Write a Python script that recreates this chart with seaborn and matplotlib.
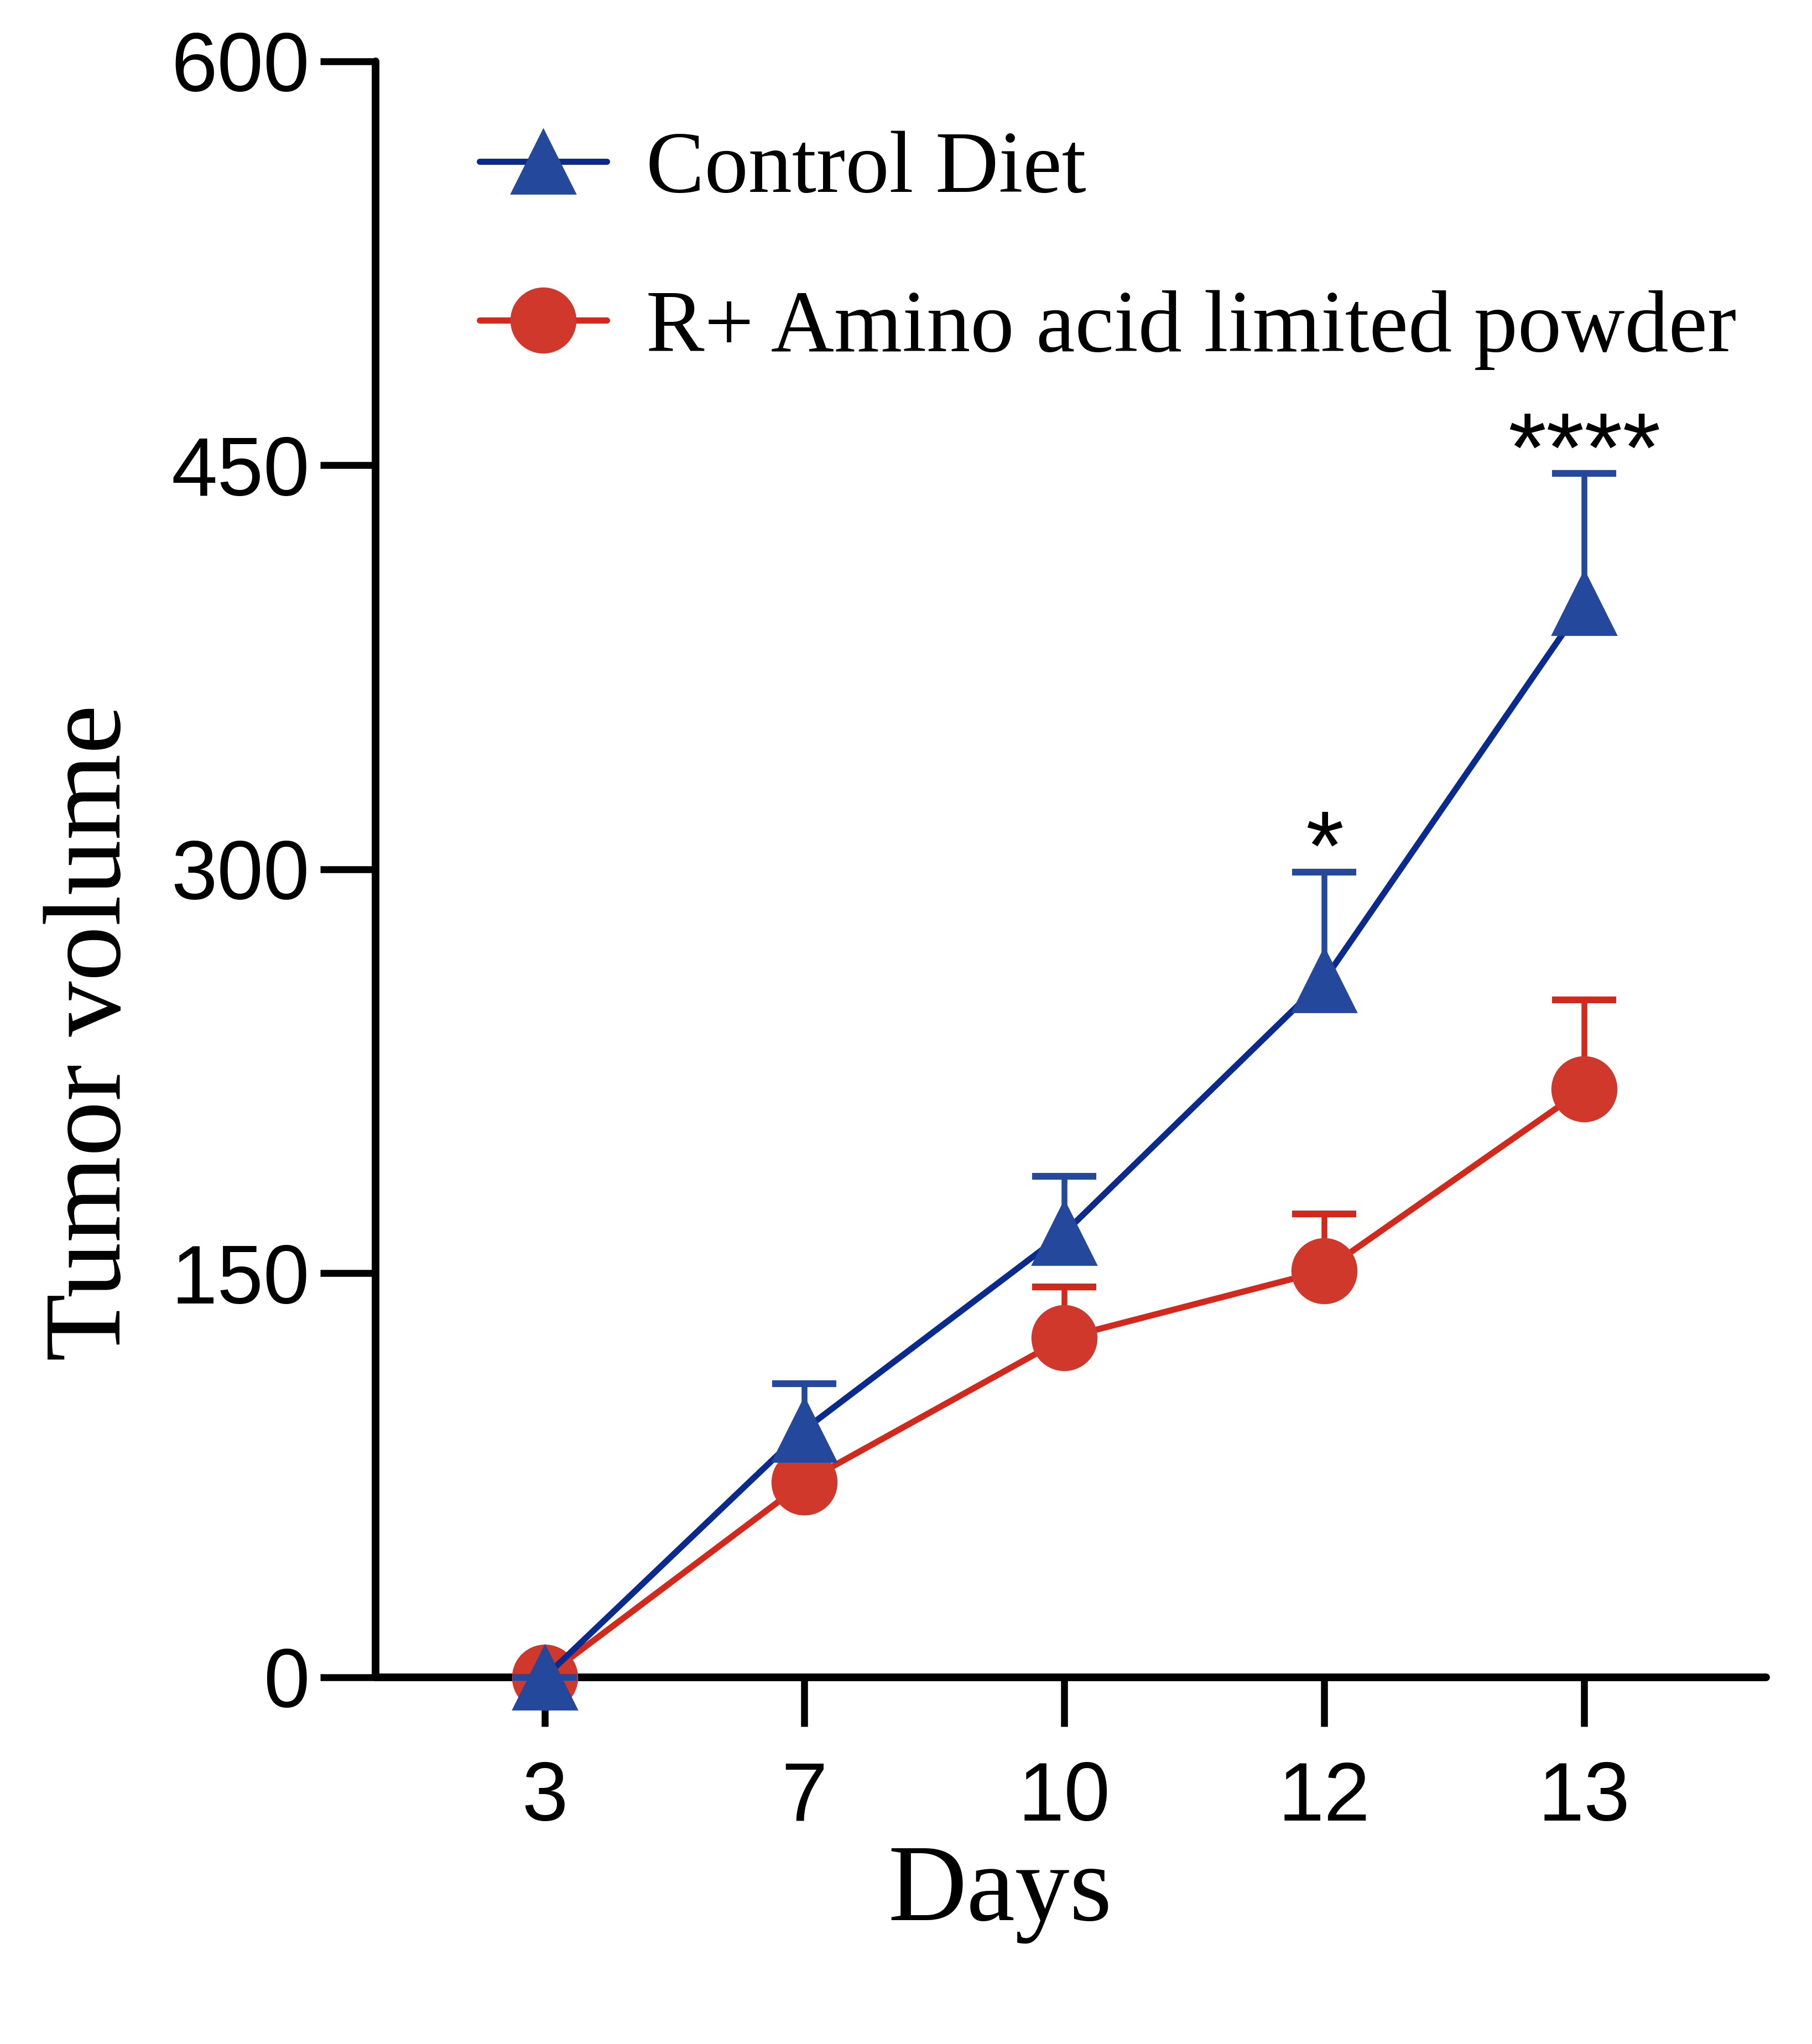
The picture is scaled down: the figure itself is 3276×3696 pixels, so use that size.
import numpy as np
import pandas as pd
import matplotlib
matplotlib.use("Agg")
import matplotlib.pyplot as plt
import seaborn as sns
from matplotlib.lines import Line2D

# ---------------- data ----------------
days = ["3", "7", "10", "12", "13"]
control_mean = [0, 92, 165, 259, 399]
control_err = [0, 17, 21, 40, 48]
limited_mean = [0, 72.5, 126, 151, 218.5]
limited_err = [0, 0, 19, 21, 33]
group_names = ["Control Diet", "R+ Amino acid limited powder"]
sig_days = ["12", "13"]
sig_labels = ["*", "****"]
y_ticks = [0, 150, 300, 450, 600]

# ---------------- style ----------------
sns.set_theme(style="ticks")
plt.rcParams["font.family"] = ["Liberation Sans", "DejaVu Sans"]

blue_line = "#0b2a8e"
blue_fill = "#24489c"
red_line = "#d3281c"
red_fill = "#cf382b"
lw = 4.0

fig = plt.figure(figsize=(16.38, 18.48), dpi=200)
ax = fig.add_axes([0.2073, 0.1794, 0.7674, 0.7906])

df_ctrl = pd.DataFrame({"day": days, "vol": control_mean})
df_lim = pd.DataFrame({"day": days, "vol": limited_mean})


def upper_errorbar(x, mean, err, color, z):
    _, caps, _ = ax.errorbar(x, mean, yerr=[np.zeros(len(x)), err],
                             fmt="none", ecolor=color, elinewidth=3.8,
                             capsize=21, capthick=4.4, zorder=z, clip_on=False)
    # keep only the upper caps
    caps[0].remove()


# red series first (drawn underneath)
upper_errorbar(days, limited_mean, limited_err, red_line, 2)
sns.lineplot(data=df_lim, x="day", y="vol", sort=False, ax=ax,
             color=red_line, linewidth=lw, marker="o", markersize=42,
             markerfacecolor=red_fill, markeredgecolor=red_fill,
             markeredgewidth=1, zorder=3, clip_on=False)

upper_errorbar(days, control_mean, control_err, blue_fill, 4)
sns.lineplot(data=df_ctrl, x="day", y="vol", sort=False, ax=ax,
             color=blue_line, linewidth=lw, marker="^", markersize=42,
             markerfacecolor=blue_fill, markeredgecolor=blue_fill,
             markeredgewidth=1, zorder=5, clip_on=False)

# significance marks
for d, lab in zip(sig_days, sig_labels):
    i = days.index(d)
    top = control_mean[i] + control_err[i]
    ax.annotate(lab, xy=(i, top), xytext=(0, -5), textcoords="offset points",
                ha="center", va="baseline", fontsize=64, fontweight="normal",
                color="black", annotation_clip=False)

# axes
ax.set_xlim(-0.65, 4.70)
ax.set_ylim(0, 600)
ax.set_yticks(y_ticks)
ax.set_yticklabels([str(v) for v in y_ticks])
ax.set_xticks(range(len(days)))
ax.set_xticklabels(days)

for s in ["top", "right"]:
    ax.spines[s].set_visible(False)
for s in ["left", "bottom"]:
    ax.spines[s].set_linewidth(5)
    ax.spines[s].set_color("black")
    ax.spines[s].set_capstyle("round")

ax.tick_params(axis="y", length=36, width=4.5, pad=7, labelsize=54, colors="black")
ax.tick_params(axis="x", length=32, width=4.5, pad=22, labelsize=54, colors="black")

ax.set_xlabel("Days", fontsize=71, family="Liberation Serif", color="black")
ax.set_ylabel("Tumor volume", fontsize=72, family="Liberation Serif", color="black")
ax.xaxis.set_label_coords(0.449, -0.1035)
ax.yaxis.set_label_coords(-0.167, 0.399)

# legend
handles = [
    Line2D([], [], color=blue_line, linewidth=lw, marker="^", markersize=42,
           markerfacecolor=blue_fill, markeredgecolor=blue_fill),
    Line2D([], [], color=red_line, linewidth=lw, marker="o", markersize=42,
           markerfacecolor=red_fill, markeredgecolor=red_fill),
]
leg = ax.legend(handles, group_names, loc="upper left",
                bbox_to_anchor=(0.2647, 0.936), bbox_transform=fig.transFigure,
                frameon=False, borderpad=0, borderaxespad=0,
                handlelength=1.45, handletextpad=0.45, labelspacing=0.90,
                prop={"family": "Liberation Serif", "size": 57})
for t in leg.get_texts():
    t.set_color("black")

fig.savefig("out.png", dpi=200, facecolor="white")
